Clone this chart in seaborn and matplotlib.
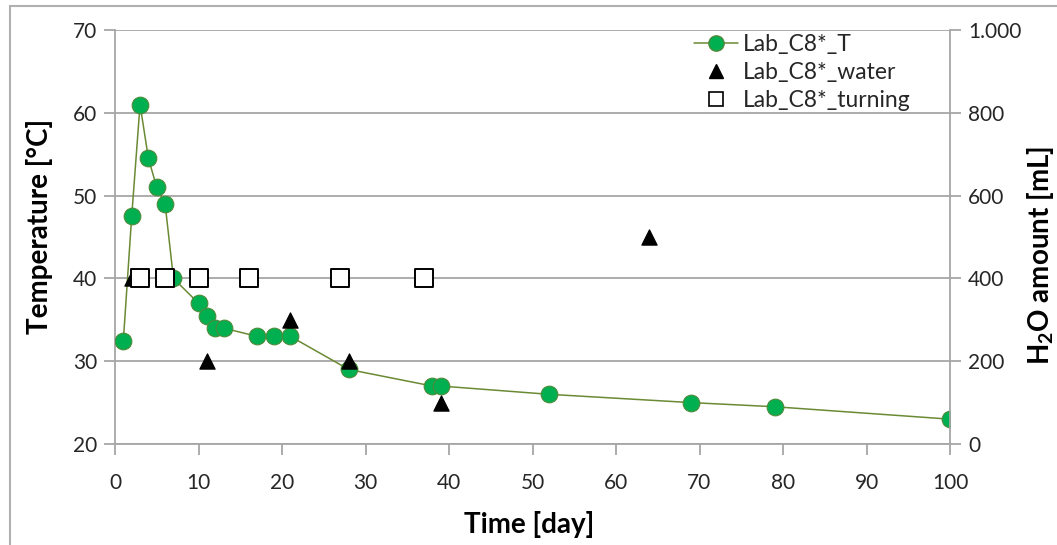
import matplotlib
matplotlib.use("Agg")
import matplotlib.pyplot as plt
from matplotlib.patches import Rectangle
from matplotlib.lines import Line2D
import seaborn as sns
import pandas as pd

# ---- data ----
t_days = [1, 2, 3, 4, 5, 6, 7, 10, 11, 12, 13, 17, 19, 21, 28, 38, 39, 52, 69, 79, 100]
t_temp = [32.5, 47.5, 61, 54.5, 51, 49, 40, 37, 35.5, 34, 34, 33, 33, 33, 29, 27, 27, 26, 25, 24.5, 23]

water_days = [2, 11, 21, 28, 39, 64]
water_ml = [400, 200, 300, 200, 100, 500]

turn_days = [3, 6, 10, 16, 27, 37]
turn_ml = [400, 400, 400, 400, 400, 400]

x_ticks = [0, 10, 20, 30, 40, 50, 60, 70, 80, 90, 100]
left_ticks = [20, 30, 40, 50, 60, 70]
right_ticks = [0, 200, 400, 600, 800, 1000]
right_labels = ["0", "200", "400", "600", "800", "1.000"]

sns.set_theme(style="white")
plt.rcParams["font.family"] = ["Lato", "DejaVu Sans"]
plt.rcParams["mathtext.default"] = "regular"

df_t = pd.DataFrame({"day": t_days, "temp": t_temp})
df_w = pd.DataFrame({"day": water_days, "ml": water_ml})
df_r = pd.DataFrame({"day": turn_days, "ml": turn_ml})

W, H = 1057, 545
fig = plt.figure(figsize=(W / 100, H / 100), dpi=100)
ax = fig.add_axes([115 / W, 1 - 444 / H, (950 - 115) / W, (444 - 30) / H])
ax2 = ax.twinx()

grid_c = "#A6A6A6"
tick_c = "#262626"
green = "#00B050"
olive = "#6B8A34"

ax.set_xlim(0, 100)
ax.set_ylim(20, 70)
ax.set_yticks(left_ticks)
ax.set_xticks(x_ticks)
for y in left_ticks:
    ax.axhline(y, color=grid_c, lw=1.3, zorder=0)

sns.lineplot(data=df_t, x="day", y="temp", ax=ax, color=olive, lw=1.1,
             marker="o", markersize=12, markerfacecolor=green,
             markeredgecolor="#4E8A3A", markeredgewidth=0.8, zorder=3,
             legend=False)

sns.scatterplot(data=df_w, x="day", y="ml", ax=ax2, marker="^", s=120,
                color="black", edgecolor="black", zorder=4, legend=False)
sns.scatterplot(data=df_r, x="day", y="ml", ax=ax2, marker="s", s=160,
                facecolor="white", edgecolor="black", linewidth=1.4,
                zorder=5, legend=False)

ax2.set_ylim(0, 1000)
ax2.set_yticks(right_ticks)
ax2.set_yticklabels(right_labels)

for a in (ax, ax2):
    for s in a.spines.values():
        s.set_visible(False)
ax.spines["left"].set_visible(True)
ax.spines["bottom"].set_visible(True)
ax2.spines["right"].set_visible(True)
for s in (ax.spines["left"], ax.spines["bottom"], ax2.spines["right"]):
    s.set_color(grid_c)
    s.set_linewidth(1.3)

ax.tick_params(axis="both", which="major", direction="out", length=8,
               width=1.3, color=grid_c, labelsize=15, labelcolor=tick_c,
               left=True, bottom=True)
ax.tick_params(axis="x", pad=13)
ax.tick_params(axis="y", pad=5)
ax2.tick_params(axis="y", direction="out", length=8, width=1.3, color=grid_c,
                labelsize=15, labelcolor=tick_c, right=True, pad=5)

ax.set_xlabel("")
ax.set_ylabel("")
ax2.set_ylabel("")
fig.text(529 / W, 1 - 524 / H, "Time [day]", fontsize=20, fontweight="bold",
         color="black", ha="center", va="center")
fig.text(40 / W, 1 - 226 / H, "Temperature [°C]", fontsize=20,
         fontweight="bold", color="black", ha="center", va="center",
         rotation=90)
fig.text(1040 / W, 1 - 255 / H, "H$_2$O amount [mL]", fontsize=20,
         fontweight="bold", color="black", ha="center", va="center",
         rotation=90)

handles = [
    Line2D([], [], color=olive, lw=1.1, marker="o", markersize=11,
           markerfacecolor=green, markeredgecolor="#4E8A3A"),
    Line2D([], [], color="black", lw=0, marker="^", markersize=10),
    Line2D([], [], color="black", lw=0, marker="s", markersize=10,
           markerfacecolor="white", markeredgewidth=1.2),
]
labels = ["Lab_C8*_T", "Lab_C8*_water", "Lab_C8*_turning"]
leg = ax.legend(handles, labels, loc="upper left",
                bbox_to_anchor=(694 / W, 1 - 34 / H),
                bbox_transform=fig.transFigure, frameon=False, fontsize=16.5,
                handlelength=1.9, handletextpad=0.25, labelspacing=0.3,
                borderaxespad=0, borderpad=0)
for txt in leg.get_texts():
    txt.set_color(tick_c)

fig.patches.append(Rectangle((10 / W, -0.2), 1.5, 1 - 6 / H + 0.2,
                             transform=fig.transFigure, fill=False,
                             edgecolor="#B0B0B0", lw=1.5))

fig.savefig("out.png", dpi=100)
